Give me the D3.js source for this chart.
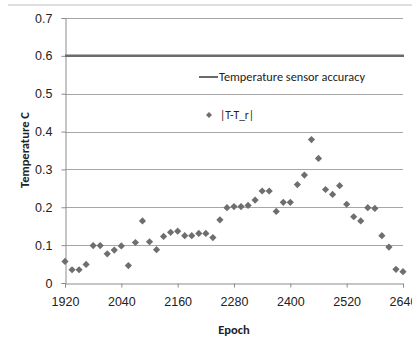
<!DOCTYPE html>
<html>
<head>
<meta charset="utf-8">
<script src="https://cdn.jsdelivr.net/npm/d3@7"></script>
<style>
  html, body { margin: 0; padding: 0; background: #fff; }
  svg { display: block; font-family: Carlito, "Liberation Sans Narrow", "Liberation Sans", Arial, sans-serif; }
</style>
</head>
<body>
<svg id="chart" width="412" height="341"></svg>
<script>
// ---- data ----
const epochStart = 1920, epochStep = 15;
const diffValues = [
  0.057, 0.035, 0.035, 0.049, 0.099, 0.099, 0.077, 0.087, 0.098, 0.046,
  0.107, 0.164, 0.109, 0.088, 0.123, 0.134, 0.137, 0.125, 0.125, 0.131,
  0.131, 0.120, 0.167, 0.199, 0.202, 0.202, 0.205, 0.219, 0.243, 0.243,
  0.189, 0.213, 0.213, 0.260, 0.285, 0.379, 0.329, 0.247, 0.234, 0.257,
  0.208, 0.175, 0.164, 0.199, 0.197, 0.125, 0.095, 0.036, 0.030
];
const epochs = diffValues.map((d, i) => epochStart + i * epochStep);
const accuracy = 0.6;
const xTicks = [1920, 2040, 2160, 2280, 2400, 2520, 2640];
const yTicks = [0, 0.1, 0.2, 0.3, 0.4, 0.5, 0.6, 0.7];
const legendLabels = ["Temperature sensor accuracy", "|T-T_r|"];
const axisTitles = { x: "Epoch", y: "Temperature C" };

// ---- layout ----
const svg = d3.select("#chart");
const mLeft = 65, mRight = 403, mTop = 18, mBottom = 283;
const x = d3.scaleLinear().domain([1920, 2640]).range([mLeft, mRight]);
const y = d3.scaleLinear().domain([0, 0.7]).range([mBottom, mTop]);

// top border remnant
svg.append("line").attr("x1", 8).attr("x2", 412).attr("y1", 5).attr("y2", 5)
  .attr("stroke", "#d4d4d4").attr("stroke-width", 1.5);

// gridlines
svg.append("g").selectAll("line").data(yTicks.filter(t => t > 0)).join("line")
  .attr("x1", mLeft).attr("x2", mRight)
  .attr("y1", d => Math.round(y(d)) + 0.5).attr("y2", d => Math.round(y(d)) + 0.5)
  .attr("stroke", "#a6a6a6").attr("stroke-width", 1);

// y axis
const yAxis = svg.append("g").attr("transform", `translate(${mLeft + 0.5},0)`)
  .call(d3.axisLeft(y).tickValues(yTicks).tickFormat(d => d === 0 ? "0" : d3.format(".1f")(d)).tickSize(4).tickPadding(9));
yAxis.select(".domain").attr("stroke", "#8c8c8c");
yAxis.selectAll(".tick line").attr("stroke", "#8c8c8c");
yAxis.selectAll("text").attr("font-size", 12.5).attr("fill", "#222").attr("font-family", null);

// x axis
const xAxis = svg.append("g").attr("transform", `translate(0,${mBottom + 0.5})`)
  .call(d3.axisBottom(x).tickValues(xTicks).tickFormat(d3.format("d")).tickSize(4).tickPadding(10));
xAxis.select(".domain").attr("stroke", "#8c8c8c");
xAxis.selectAll(".tick line").attr("stroke", "#8c8c8c");
xAxis.selectAll("text").attr("font-size", 12.5).attr("fill", "#222").attr("font-family", null);

// accuracy line
svg.append("line").attr("x1", mLeft).attr("x2", mRight + 1)
  .attr("y1", y(accuracy)).attr("y2", y(accuracy))
  .attr("stroke", "#6b6b6b").attr("stroke-width", 2.5);

// scatter diamonds (square rotated 45°)
const diamond = d3.symbol().type(d3.symbolSquare).size(26);
svg.append("g").selectAll("path").data(diffValues).join("path")
  .attr("d", diamond)
  .attr("transform", (d, i) => `translate(${x(epochs[i])},${y(d)}) rotate(45)`)
  .attr("fill", "#6e6e6e");

// legend
const lg = svg.append("g");
lg.append("line").attr("x1", 199).attr("x2", 218).attr("y1", 77).attr("y2", 77)
  .attr("stroke", "#6b6b6b").attr("stroke-width", 2);
lg.append("text").attr("x", 219).attr("y", 81).attr("font-size", 11.5).attr("fill", "#222")
  .attr("textLength", 146).attr("lengthAdjust", "spacingAndGlyphs").text(legendLabels[0]);
lg.append("path").attr("d", d3.symbol().type(d3.symbolSquare).size(18)).attr("transform", "translate(209,115) rotate(45)").attr("fill", "#6e6e6e");
lg.append("text").attr("x", 220).attr("y", 119).attr("font-size", 11.5).attr("fill", "#222").text(legendLabels[1]);

// axis titles
svg.append("text").attr("x", 234).attr("y", 334).attr("text-anchor", "middle")
  .attr("font-size", 12.5).attr("font-weight", "bold").attr("fill", "#222").text(axisTitles.x);
svg.append("text").attr("transform", "translate(29,150) rotate(-90)").attr("text-anchor", "middle")
  .attr("font-size", 12.5).attr("font-weight", "bold").attr("fill", "#222").text(axisTitles.y);
</script>
</body>
</html>
